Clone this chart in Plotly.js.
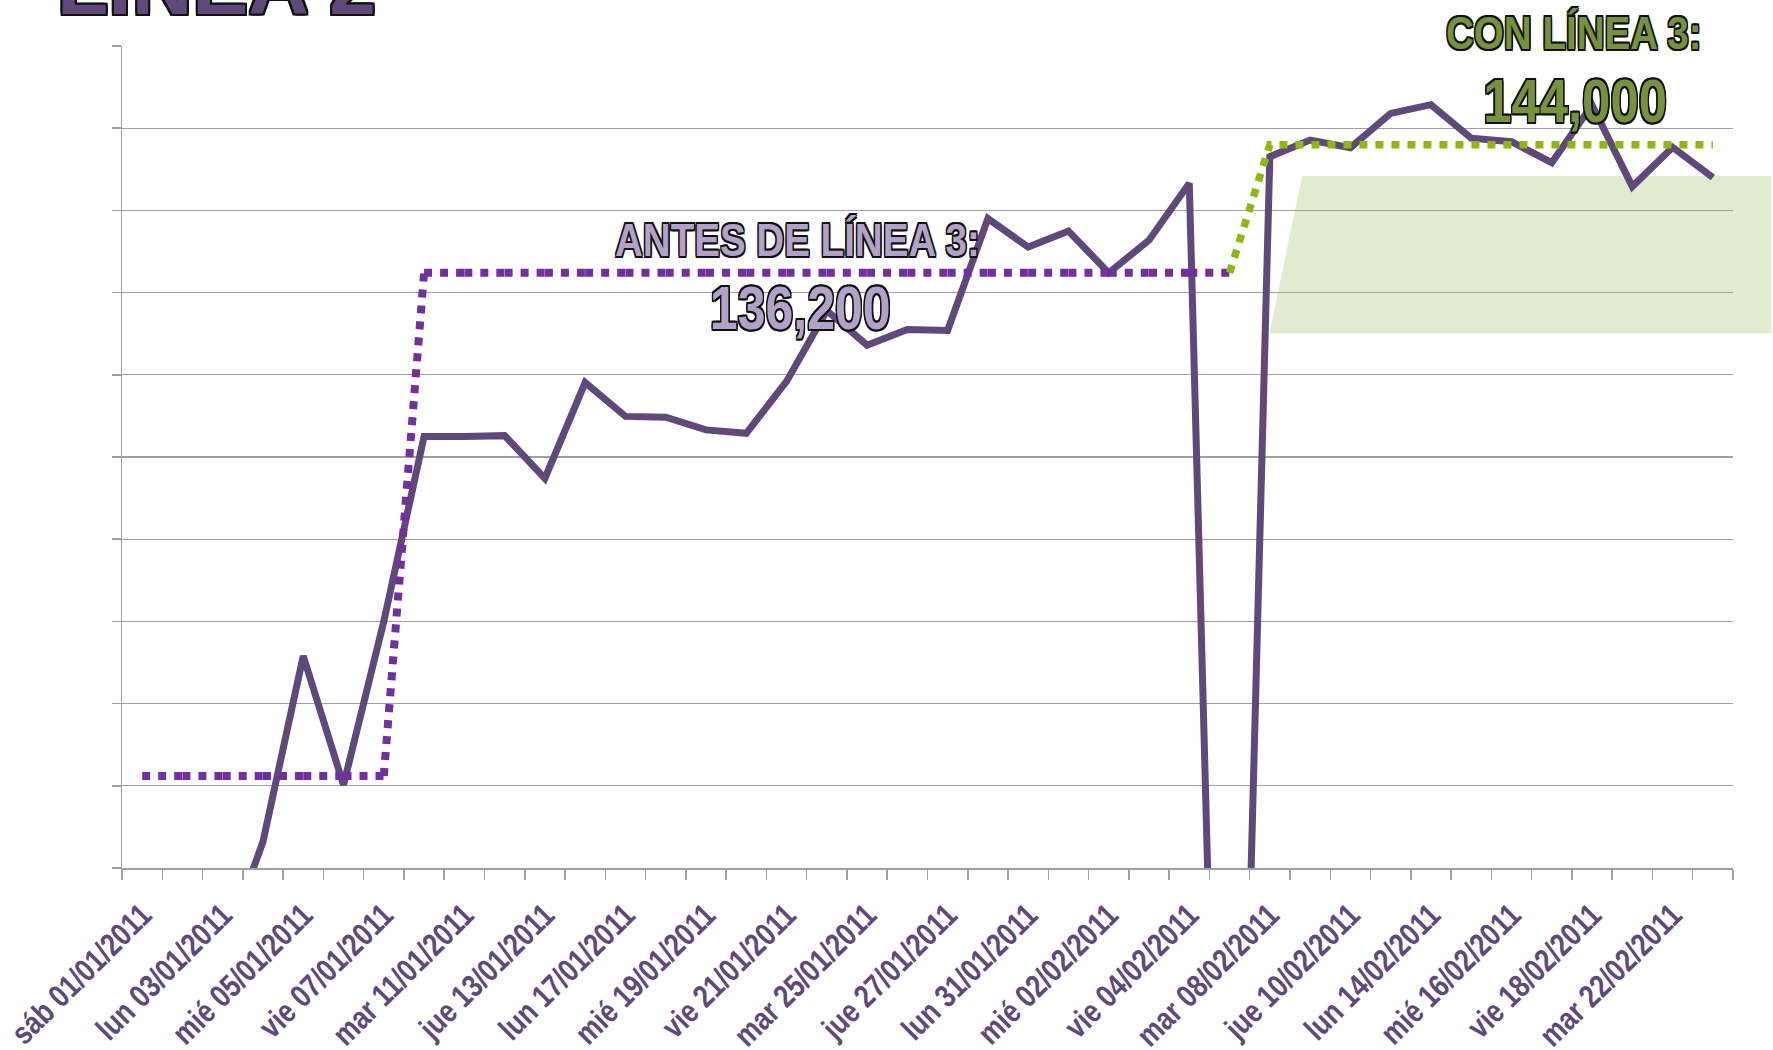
<!DOCTYPE html>
<html>
<head>
<meta charset="utf-8">
<script src="https://cdn.plot.ly/plotly-3.0.1.min.js"></script>
<style>
  html, body { margin: 0; padding: 0; background: #ffffff; }
  #chart { width: 1773px; height: 1050px; }
</style>
</head>
<body>
<div id="chart"></div>
<script>
// ---- DATA ----
const fechas = ['sáb 01/01/2011','dom 02/01/2011','lun 03/01/2011','mar 04/01/2011','mié 05/01/2011','jue 06/01/2011','vie 07/01/2011',
  'lun 10/01/2011','mar 11/01/2011','mié 12/01/2011','jue 13/01/2011','vie 14/01/2011',
  'lun 17/01/2011','mar 18/01/2011','mié 19/01/2011','jue 20/01/2011','vie 21/01/2011',
  'lun 24/01/2011','mar 25/01/2011','mié 26/01/2011','jue 27/01/2011','vie 28/01/2011',
  'lun 31/01/2011','mar 01/02/2011','mié 02/02/2011','jue 03/02/2011','vie 04/02/2011',
  'lun 07/02/2011','mar 08/02/2011','mié 09/02/2011','jue 10/02/2011','vie 11/02/2011',
  'lun 14/02/2011','mar 15/02/2011','mié 16/02/2011','jue 17/02/2011','vie 18/02/2011',
  'lun 21/02/2011','mar 22/02/2011','mié 23/02/2011'];

// daily riders, Línea 2
const pasajeros = [null, null, 94800, 101600, 112900, 105050, 115000,
  126240, 126240, 126300, 123700, 129530,
  127470, 127420, 126650, 126440, 129600,
  133900, 131800, 132750, 132700, 139500,
  137770, 138740, 136200, 138190, 141650,
  50000, 143270, 144280, 143810, 145900,
  146430, 144390, 144180, 142900, 146410,
  141450, 143840, 142000];

// average before Línea 3
const promedioAntes = [105600, 105600, 105600, 105600, 105600, 105600, 105600,
  136200, 136200, 136200, 136200, 136200,
  136200, 136200, 136200, 136200, 136200,
  136200, 136200, 136200, 136200, 136200,
  136200, 136200, 136200, 136200, 136200,
  136200, null, null, null, null,
  null, null, null, null, null,
  null, null, null];

// average with Línea 3
const promedioCon = [null, null, null, null, null, null, null,
  null, null, null, null, null,
  null, null, null, null, null,
  null, null, null, null, null,
  null, null, null, null, null,
  136200, 144000, 144000, 144000, 144000,
  144000, 144000, 144000, 144000, 144000,
  144000, 144000, 144000];

const valorAntes = 136200;
const valorCon = 144000;

// shaded band (category index, value)
const bandaIdx = [27.99, 28.8, 40.45, 40.45];
const bandaVal = [132520, 142090, 142090, 132520];

// tick labels: every second date
const etiquetas = fechas.map((f, i) => (i % 2 === 0 ? f : ''));

// ---- LAYOUT ----
const W = 1773, H = 1050;
const M = {l: 122, r: 40, t: 46, b: 182};
const PW = W - M.l - M.r, PH = H - M.t - M.b;
const pxX = (x) => (x - M.l) / PW;
const pxY = (y) => (H - M.b - y) / PH;
const idx2paper = (i) => (i + 0.5) / fechas.length;

const outline = (w, c) => {
  const s = [];
  const d = [[-1,-1],[0,-1],[1,-1],[-1,0],[1,0],[-1,1],[0,1],[1,1]];
  d.forEach(([a,b]) => s.push((a*w)+'px '+(b*w)+'px 0 '+c));
  return s.join(', ');
};

const sans = '"Liberation Sans", Arial, sans-serif';
const NARROW = 0.82; // horizontal condensation (Arial Narrow look)

const bandPath = bandaIdx.map((v, i) => (i === 0 ? 'M ' : 'L ') + idx2paper(v) + ',' + bandaVal[i]).join(' ') + ' Z';

const traces = [
  {
    x: fechas, y: pasajeros, type: 'scatter', mode: 'lines',
    line: {color: '#5F497A', width: 7}, connectgaps: false, hoverinfo: 'skip'
  }
];

// "before" average: dotted pattern restarts at every point (segment by segment)
for (let i = 0; i < fechas.length - 1; i++) {
  if (promedioAntes[i] === null || promedioAntes[i + 1] === null) continue;
  traces.push({
    x: [fechas[i], fechas[i + 1]], y: [promedioAntes[i], promedioAntes[i + 1]],
    type: 'scatter', mode: 'lines',
    line: {color: '#7030A0', width: 8, dash: '8px,8px'}, hoverinfo: 'skip'
  });
}

traces.push({
  x: fechas, y: promedioCon, type: 'scatter', mode: 'lines',
  line: {color: '#8DB812', width: 7.5, dash: '8px,8px'}, hoverinfo: 'skip'
});

const fmt = (v) => v.toLocaleString('en-US');

const layout = {
  width: W, height: H,
  margin: M,
  paper_bgcolor: '#ffffff', plot_bgcolor: '#ffffff',
  showlegend: false,
  xaxis: {
    type: 'category',
    categoryorder: 'array', categoryarray: fechas,
    range: [-0.5, fechas.length - 0.5],
    tickmode: 'array', tickvals: fechas, ticktext: etiquetas,
    tickson: 'boundaries',
    ticks: 'outside', ticklen: 10, tickcolor: '#A0A0A0', tickwidth: 1.5,
    showline: true, linecolor: '#A0A0A0', linewidth: 1.5,
    showgrid: false, zeroline: false,
    tickangle: -45, ticklabelstandoff: 14,
    tickfont: {family: sans, size: 32, color: '#5F497A', weight: 'bold'}
  },
  yaxis: {
    range: [100000, 150000], dtick: 5000, tick0: 100000,
    showticklabels: false,
    ticks: 'outside', ticklen: 9, tickcolor: '#A0A0A0', tickwidth: 1.5,
    showline: true, linecolor: '#A0A0A0', linewidth: 1.5,
    showgrid: true, gridcolor: '#A0A0A0', gridwidth: 1.3,
    zeroline: false
  },
  shapes: [
    {type: 'path', xref: 'paper', yref: 'y', path: bandPath,
     fillcolor: '#E1EBCF', line: {width: 0}, layer: 'below'}
  ],
  annotations: [
    {xref: 'paper', yref: 'paper', x: pxX(55), y: pxY(-15), xanchor: 'left', yanchor: 'middle',
     text: 'LÍNEA 2', showarrow: false,
     font: {family: sans, size: 84, weight: 'bold', color: '#5F497A',
            shadow: outline(2, '#111')}},
    {xref: 'paper', yref: 'paper', x: pxX(797.5), y: pxY(239), xanchor: 'center', yanchor: 'middle',
     text: 'ANTES DE LÍNEA 3:', showarrow: false,
     font: {family: sans, size: 47, weight: 'bold', color: '#B3A2C7', shadow: outline(1.6, '#111')}},
    {xref: 'paper', yref: 'paper', x: pxX(800), y: pxY(308), xanchor: 'center', yanchor: 'middle',
     text: fmt(valorAntes), showarrow: false,
     font: {family: sans, size: 61, weight: 'bold', color: '#B3A2C7', shadow: outline(1.6, '#111')}},
    {xref: 'paper', yref: 'paper', x: pxX(1574), y: pxY(32.5), xanchor: 'center', yanchor: 'middle',
     text: 'CON LÍNEA 3:', showarrow: false,
     font: {family: sans, size: 47, weight: 'bold', color: '#76923C', shadow: outline(1.6, '#111')}},
    {xref: 'paper', yref: 'paper', x: pxX(1575), y: pxY(100), xanchor: 'center', yanchor: 'middle',
     text: fmt(valorCon), showarrow: false,
     font: {family: sans, size: 62, weight: 'bold', color: '#76923C', shadow: outline(1.6, '#111')}}
  ]
};

function condense(gd) {
  const nodes = gd.querySelectorAll('.xtick text, .annotation-text');
  nodes.forEach((t) => {
    if (t.textContent === 'LÍNEA 2' || !t.textContent) return;
    const L = t.getComputedTextLength();
    t.setAttribute('textLength', (L * NARROW).toFixed(2));
    t.setAttribute('lengthAdjust', 'spacingAndGlyphs');
  });
}

Plotly.newPlot('chart', traces, layout, {staticPlot: true, displayModeBar: false})
  .then(condense);
</script>
</body>
</html>
